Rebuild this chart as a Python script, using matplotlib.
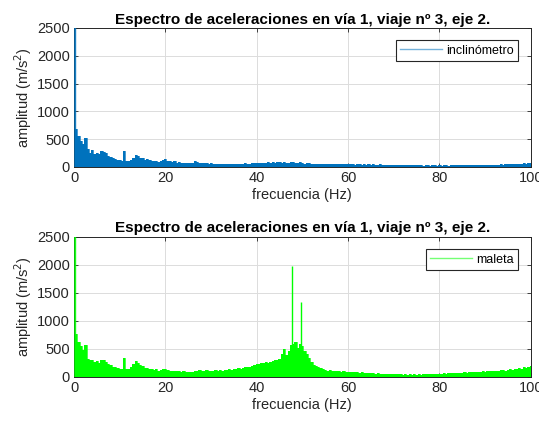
import numpy as np
import matplotlib
matplotlib.use("Agg")
import matplotlib.pyplot as plt

plt.rcParams["font.family"] = ["Liberation Sans", "DejaVu Sans"]

# frequency grid of the spectra (Hz), 0.5 Hz spacing
freq = np.arange(0, 100.5, 0.5)

# amplitude, inclinometer (top panel)
amp_incl = [
    2600, 680, 560, 470, 420, 530, 330, 260, 300, 240,
    260, 230, 280, 270, 250, 200, 180, 160, 150, 130,
    120, 110, 290, 110, 100, 130, 170, 210, 190, 170,
    160, 130, 140, 120, 110, 100, 110, 90, 100, 130,
    150, 110, 100, 90, 100, 80, 90, 75, 80, 70,
    75, 70, 80, 100, 95, 80, 70, 65, 70, 60,
    65, 60, 55, 60, 50, 55, 60, 50, 55, 50,
    55, 60, 50, 55, 60, 65, 55, 60, 70, 65,
    70, 75, 65, 80, 70, 85, 75, 90, 80, 85,
    90, 80, 85, 75, 80, 85, 90, 80, 75, 85,
    70, 60, 75, 65, 60, 55, 60, 50, 55, 60,
    55, 50, 55, 45, 50, 55, 45, 50, 60, 45,
    50, 45, 50, 40, 45, 50, 40, 45, 40, 45,
    40, 45, 35, 40, 45, 35, 40, 35, 40, 35,
    35, 40, 30, 35, 30, 35, 30, 35, 30, 30,
    30, 35, 30, 25, 30, 30, 25, 30, 30, 25,
    30, 25, 30, 30, 25, 30, 30, 35, 30, 30,
    30, 35, 30, 35, 30, 35, 30, 30, 35, 40,
    35, 30, 35, 40, 35, 40, 35, 45, 40, 45,
    45, 50, 45, 55, 50, 60, 55, 65, 60, 70,
    75,
]

# amplitude, suitcase sensor (bottom panel)
amp_maleta = [
    2600, 760, 620, 540, 480, 560, 320, 290, 300, 260,
    280, 250, 300, 290, 270, 220, 200, 180, 170, 150,
    140, 130, 330, 140, 130, 170, 220, 280, 240, 200,
    190, 150, 160, 140, 130, 120, 130, 110, 120, 130,
    140, 120, 110, 100, 110, 95, 100, 90, 95, 85,
    90, 80, 85, 100, 110, 120, 100, 110, 120, 105,
    110, 100, 115, 105, 120, 110, 125, 115, 130, 120,
    130, 140, 150, 140, 160, 170, 180, 170, 190, 200,
    220, 230, 240, 250, 260, 250, 270, 280, 300, 290,
    320, 400, 500, 380, 450, 560, 590, 620, 520, 580,
    540, 450, 400, 340, 260, 210, 190, 170, 150, 140,
    120, 110, 115, 100, 110, 95, 100, 90, 95, 85,
    90, 80, 85, 75, 80, 70, 75, 65, 70, 60,
    65, 60, 55, 60, 50, 55, 50, 45, 50, 45,
    45, 40, 45, 40, 35, 40, 35, 40, 35, 40,
    35, 40, 35, 40, 45, 40, 45, 50, 45, 50,
    55, 50, 60, 55, 60, 65, 60, 65, 70, 65,
    70, 75, 70, 80, 75, 85, 80, 90, 85, 95,
    90, 100, 95, 105, 100, 110, 105, 115, 120, 110,
    120, 130, 125, 140, 135, 150, 145, 170, 160, 180,
    190,
]

# narrow peaks of the bottom spectrum
peak_freq = [47.8, 49.7]
peak_amp = [1970, 1330]

title = "Espectro de aceleraciones en vía 1, viaje nº 3, eje 2."
dark = "#262626"

fig = plt.figure(figsize=(5.39, 4.22), dpi=100)
ax1 = fig.add_axes([0.1373, 0.6043, 0.8473, 0.3294])
ax2 = fig.add_axes([0.1373, 0.1074, 0.8473, 0.3318])

panels = [
    (ax1, amp_incl, "#0072BD", "inclinómetro"),
    (ax2, amp_maleta, "#00FF00", "maleta"),
]
for ax, amp, color, label in panels:
    ax.fill_between(freq, 0, amp, step="mid", color=color, lw=0, zorder=2)
    ax.plot(freq, amp, drawstyle="steps-mid", color=color, lw=0.5, zorder=3)
    # DC component, drawn wide so it shows beside the left spine
    ax.vlines(freq[0], 0, amp[0], color=color, lw=2.5, alpha=0.7, zorder=3)
    # legend handle only
    ax.plot([], [], color=color, lw=1.0, alpha=0.55, label=label)
    ax.set_xlim(0, 100)
    ax.set_ylim(0, 2500)
    ax.set_xticks([0, 20, 40, 60, 80, 100])
    ax.set_yticks([0, 500, 1000, 1500, 2000, 2500])
    ax.grid(True, color="#dcdcdc", lw=0.7)
    ax.set_axisbelow(True)
    ax.tick_params(direction="in", top=True, right=True, length=3,
                   width=0.6, colors=dark, labelsize=10.5, pad=3)
    for sp in ax.spines.values():
        sp.set_color(dark)
        sp.set_linewidth(0.7)
    ax.set_title(title, fontsize=11, fontweight="bold", pad=3, color="black")
    ax.set_xlabel("frecuencia (Hz)", fontsize=10.5, color=dark, labelpad=2)
    ax.set_ylabel("amplitud (m/s$^2$)", fontsize=10.5, color=dark, labelpad=2)
    leg = ax.legend(loc="upper right", fontsize=9, handlelength=3.4,
                    handletextpad=0.3, fancybox=False, framealpha=1,
                    borderaxespad=1.0, borderpad=0.35)
    leg.get_frame().set_edgecolor(dark)
    leg.get_frame().set_linewidth(0.8)

ax2.vlines(peak_freq, 0, peak_amp, color="#00FF00", lw=1.0, zorder=3)

fig.savefig("out.png", dpi=100)
